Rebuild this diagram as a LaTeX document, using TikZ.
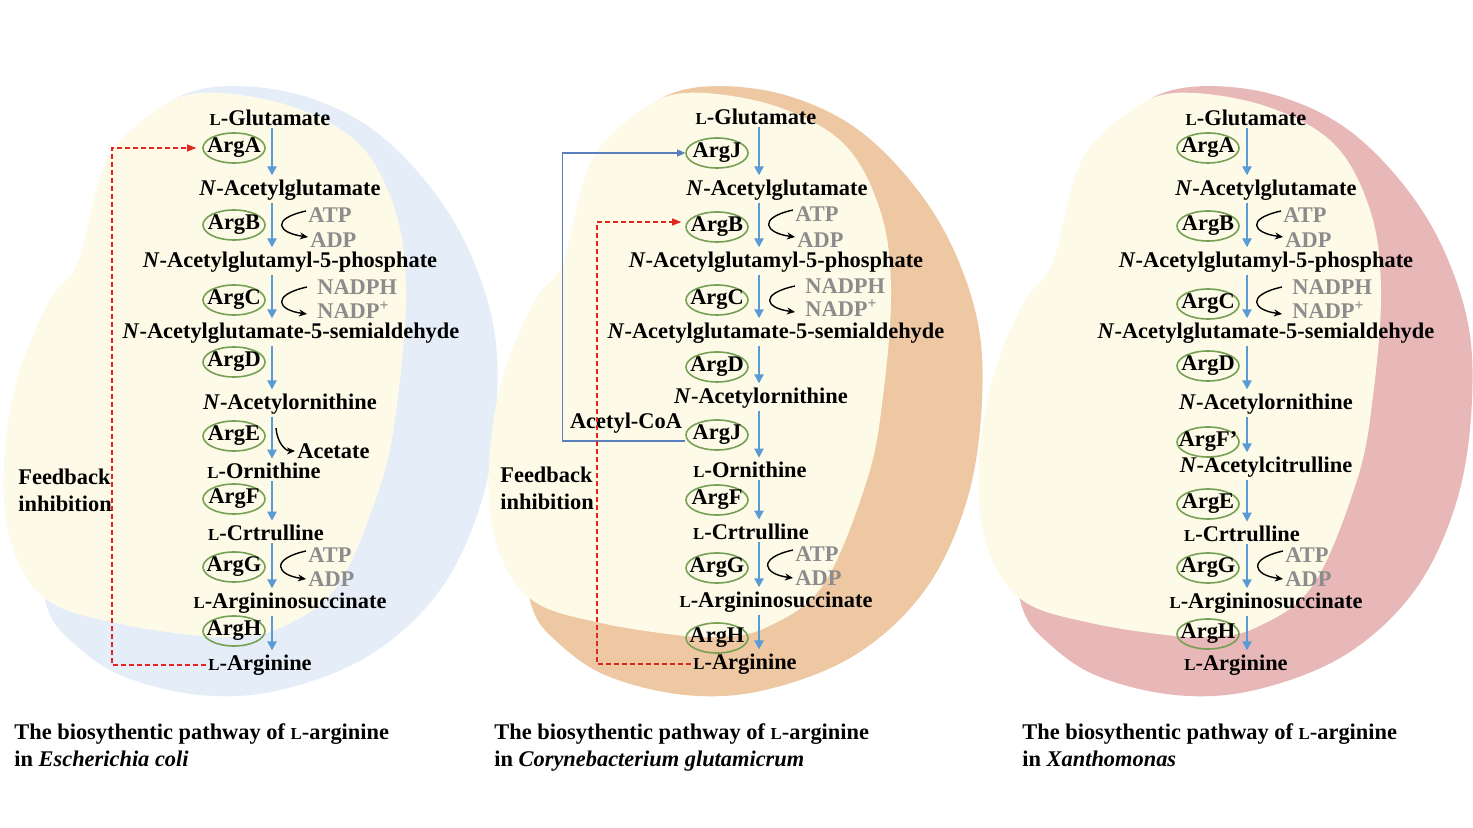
\documentclass[tikz,border=0pt]{standalone}
\usepackage{fontspec}
\setmainfont{Liberation Serif}
\usetikzlibrary{arrows.meta,shapes.geometric}
\definecolor{bgcream}{HTML}{FDFBE8}
\definecolor{bgblue}{HTML}{E5EEF8}
\definecolor{bgorange}{HTML}{EEC7A3}
\definecolor{bgred}{HTML}{E8B7B7}
\definecolor{enzgreen}{HTML}{76A054}
\definecolor{flowblue}{HTML}{5B9BD5}
\definecolor{fbred}{HTML}{E0261E}
\definecolor{cofgray}{HTML}{8C8C8C}
\definecolor{acblue}{HTML}{5A7FBF}
\newcommand{\Lsc}{{\fontsize{8.4}{10}\selectfont L}}
\newcommand{\Nit}{\textit{N}}
\newcommand{\enz}[1]{\makebox[0pt]{#1}}
\newcommand{\cofswing}[2]{\draw[swing] (#1) .. controls +(-36,8) and +(-30,-4) .. (#2);}
\newcommand{\panelbg}[2]{%
  \begin{scope}[shift={(#1,0)}]
    \fill[#2] plot[smooth cycle,tension=0.6] coordinates {(215,87) (300,95) (380,135) (450,215) (490,310) (497,400) (482,500) (440,590) (370,655) (280,690) (200,695) (120,675) (70,640) (48,610) (40,560) (40,480) (70,300) (120,170) (160,110)};
    \fill[bgcream] plot[smooth cycle,tension=0.6] coordinates {(105,164) (150,115) (200,93) (287,105) (358,143) (395,210) (406,290) (398,396) (382,480) (338,585) (280,628) (230,637) (183,634) (116,623) (55,605) (22,570) (5,513) (6,440) (20,370) (50,300) (78,262)};
  \end{scope}}

\begin{document}
\begin{tikzpicture}[x=0.5pt,y=-0.5pt,
  every node/.style={font=\bfseries\fontsize{11.2}{13.5}\selectfont,inner sep=1pt},
  enzyme/.style={ellipse,draw=enzgreen,line width=0.8pt,minimum width=31pt,minimum height=15pt,inner sep=0pt},
  cofac/.style={anchor=west,text=cofgray},
  caption/.style={align=left,anchor=north west},
  flow/.style={draw=flowblue,line width=1.2pt,-{Triangle[length=4.5pt,width=4.5pt]},shorten >=1pt},
  swing/.style={line width=0.7pt,-{Stealth[length=4pt,width=3.5pt]}},
  feedback/.style={draw=fbred,line width=0.6pt,dash pattern=on 2.5pt off 1.5pt,-{Triangle[length=4.5pt,width=3.5pt]},shorten >=2pt},
  acetyl/.style={draw=acblue,line width=0.6pt,-{Triangle[length=4pt,width=3.5pt]}}]
\fill[white] (0,0) rectangle (1473,828);
\useasboundingbox (0,0) rectangle (1473,828);
\panelbg{0}{bgblue}
\panelbg{485}{bgorange}
\panelbg{975}{bgred}

% E. coli
\coordinate (p1ax) at (272,0);
\foreach \x/\y/\txt [count=\i] in {270/118/\Lsc-Glutamate, 290/190/\Nit-Acetylglutamate, 290/262/\Nit-Acetylglutamyl-5-phosphate, 291/333/\Nit-Acetylglutamate-5-semialdehyde, 290/404/\Nit-Acetylornithine, 264/471/\Lsc-Ornithine, 266/533/\Lsc-Crtrulline, 290/603/\Lsc-Argininosuccinate, 260/665/\Lsc-Arginine}
  \node (p1m\i) at (\x,\y) {\txt};
\foreach \y/\txt [count=\i] in {148/ArgA, 225/ArgB, 300/ArgC, 362/ArgD, 436/ArgE, 499/ArgF, 567/ArgG, 631/ArgH}
  \node[enzyme] (p1e\i) at (234,\y) {\enz{\txt}};
\foreach \i [count=\j from 2] in {1,...,8}
  \draw[flow] (p1m\i.south -| p1ax) -- (p1m\j.north -| p1ax);
\node[cofac] (p1c1) at (306,215) {ATP};
\node[cofac] (p1c2) at (308,240) {ADP};
\node[cofac] (p1c3) at (315,287) {NADPH};
\node[cofac] (p1c4) at (315,310) {NADP\textsuperscript{+}};
\node[cofac] (p1c5) at (306,555) {ATP};
\node[cofac] (p1c6) at (306,579) {ADP};
\node[anchor=west] (p1ac) at (295,451) {Acetate};
\cofswing{[yshift=2pt]p1c1.west}{[yshift=1.5pt]p1c2.west}
\cofswing{[xshift=-4pt]p1c3.west}{[xshift=-4pt,yshift=-2pt]p1c4.west}
\cofswing{[yshift=2pt]p1c5.west}{[yshift=0pt]p1c6.west}
\coordinate (p1ae) at (276,428);
\draw[swing] (p1ae) .. controls +(1,14) and +(-10,0) .. (p1ac.west);
\coordinate (p1fb) at (112,148);
\draw[feedback,shorten >=3pt] (p1m9.west) -| (p1fb) -- (p1e1.west);
\node[align=left,anchor=west] (p1fbt) at (16,490) {Feedback\\inhibition};
\node[caption] (p1cap) at (12,721) {The biosythentic pathway of \Lsc-arginine\\in \textit{Escherichia coli}};

% C. glutamicum
\coordinate (p2ax) at (759,0);
\foreach \x/\y/\txt [count=\i] in {756/117/\Lsc-Glutamate, 777/190/\Nit-Acetylglutamate, 776/262/\Nit-Acetylglutamyl-5-phosphate, 776/333/\Nit-Acetylglutamate-5-semialdehyde, 761/398/\Nit-Acetylornithine, 750/470/\Lsc-Ornithine, 751/532/\Lsc-Crtrulline, 776/602/\Lsc-Argininosuccinate, 745/664/\Lsc-Arginine}
  \node (p2m\i) at (\x,\y) {\txt};
\foreach \y/\txt [count=\i] in {153/ArgJ, 227/ArgB, 300/ArgC, 367/ArgD, 435/ArgJ, 500/ArgF, 568/ArgG, 638/ArgH}
  \node[enzyme] (p2e\i) at (717,\y) {\enz{\txt}};
\foreach \i [count=\j from 2] in {1,...,8}
  \draw[flow] (p2m\i.south -| p2ax) -- (p2m\j.north -| p2ax);
\node[cofac] (p2c1) at (793,214) {ATP};
\node[cofac] (p2c2) at (795,240) {ADP};
\node[cofac] (p2c3) at (803,286) {NADPH};
\node[cofac] (p2c4) at (803,308) {NADP\textsuperscript{+}};
\node[cofac] (p2c5) at (793,554) {ATP};
\node[cofac] (p2c6) at (793,578) {ADP};
\cofswing{[yshift=2pt]p2c1.west}{[yshift=1.5pt]p2c2.west}
\cofswing{[xshift=-4pt]p2c3.west}{[xshift=-4pt,yshift=-2pt]p2c4.west}
\cofswing{[yshift=2pt]p2c5.west}{[yshift=0pt]p2c6.west}
\node (p2acoa) at (626,423) {Acetyl-CoA};
\draw[acetyl] ([yshift=-3pt]p2e5.west) -- ++(-61.5pt,0) |- (p2e1.west);
\coordinate (p2fb) at (597,222);
\draw[feedback] (p2m9.west) -| (p2fb) -- (p2fb -| p2e2.west);
\node[align=left,anchor=west] (p2fbt) at (498,488) {Feedback\\inhibition};
\node[caption] (p2cap) at (492,721) {The biosythentic pathway of \Lsc-arginine\\in \textit{Corynebacterium glutamicrum}};

% Xanthomonas
\coordinate (p3ax) at (1247,0);
\foreach \x/\y/\txt [count=\i] in {1246/118/\Lsc-Glutamate, 1266/190/\Nit-Acetylglutamate, 1266/262/\Nit-Acetylglutamyl-5-phosphate, 1266/333/\Nit-Acetylglutamate-5-semialdehyde, 1266/404/\Nit-Acetylornithine, 1266/467/\Nit-Acetylcitrulline, 1242/534/\Lsc-Crtrulline, 1266/603/\Lsc-Argininosuccinate, 1236/665/\Lsc-Arginine}
  \node (p3m\i) at (\x,\y) {\txt};
\foreach \y/\txt [count=\i] in {148/ArgA, 226/ArgB, 304/ArgC, 366/ArgD, 442/ArgF', 504/ArgE, 568/ArgG, 634/ArgH}
  \node[enzyme] (p3e\i) at (1208,\y) {\enz{\txt}};
\foreach \i [count=\j from 2] in {1,...,8}
  \draw[flow] (p3m\i.south -| p3ax) -- (p3m\j.north -| p3ax);
\node[cofac] (p3c1) at (1281,215) {ATP};
\node[cofac] (p3c2) at (1283,240) {ADP};
\node[cofac] (p3c3) at (1290,287) {NADPH};
\node[cofac] (p3c4) at (1290,310) {NADP\textsuperscript{+}};
\node[cofac] (p3c5) at (1283,555) {ATP};
\node[cofac] (p3c6) at (1283,579) {ADP};
\cofswing{[yshift=2pt]p3c1.west}{[yshift=1.5pt]p3c2.west}
\cofswing{[xshift=-4pt]p3c3.west}{[xshift=-4pt,yshift=-2pt]p3c4.west}
\cofswing{[yshift=2pt]p3c5.west}{[yshift=0pt]p3c6.west}
\node[caption] (p3cap) at (1020,721) {The biosythentic pathway of \Lsc-arginine\\in \textit{Xanthomonas}};
\end{tikzpicture}
\end{document}
